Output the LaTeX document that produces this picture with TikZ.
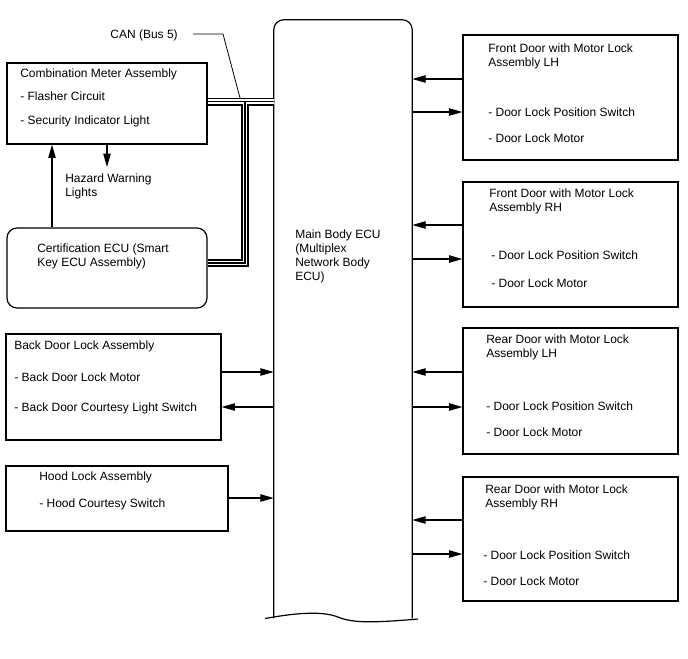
\documentclass[tikz,border=0pt]{standalone}
\usepackage{fontspec}
\setmainfont{Liberation Sans}
\usetikzlibrary{arrows.meta, fit}

\begin{document}
\begin{tikzpicture}[x=0.75pt, y=-0.75pt,
	box/.style={draw, line width=0.9pt, inner sep=0pt},
	lbl/.style={anchor=north west, inner sep=0pt, align=left, font=\fontsize{9pt}{10.5pt}\selectfont},
	sig/.style={line width=0.9pt, -{Triangle[length=10pt,width=5.5pt]}},
	bus/.style={line width=1.4pt, double, double distance=3.2pt}]
	\useasboundingbox (0,0) rectangle (688,658);
	% main body ECU
	\node[inner sep=0pt, fit={(274,20) (412,618)}] (ecu) {};
	\draw[line width=0.9pt, rounded corners=7.5pt] (ecu.south west) -- (ecu.north west) -- (ecu.north east) -- (ecu.south east);
	\draw[line width=0.9pt] (265,618.5) .. controls (290,614) and (320,610) .. (338,617) .. controls (352,623) and (372,623) .. (418,619);
	\node[lbl] (ecutxt) at (295,229.6) {Main Body ECU\\(Multiplex\\Network Body\\ECU)};
	
	% left side
	\node[box, fit={(7,63) (207,144)}] (meter) {};
	\node[lbl] (meter1) at (20,68.6) {Combination Meter Assembly};
	\node[lbl] (meter2) at (20,91.6) {- Flasher Circuit};
	\node[lbl] (meter3) at (20,115.6) {- Security Indicator Light};
	\node[lbl] (hazard) at (65,173.6) {Hazard Warning\\Lights};
	\coordinate (hazardtip) at (107,167);
	\node[box, rounded corners=7.5pt, fit={(7,228) (207,308)}] (cert) {};
	\node[lbl] (certtxt) at (37,243.6) {Certification ECU (Smart\\Key ECU Assembly)};
	\node[box, fit={(6,334) (221,440)}] (bdoor) {};
	\node[lbl] (bdoor1) at (14,340.6) {Back Door Lock Assembly};
	\node[lbl] (bdoor2) at (14,372.6) {- Back Door Lock Motor};
	\node[lbl] (bdoor3) at (14,402.6) {- Back Door Courtesy Light Switch};
	\node[box, fit={(6,466) (228,531)}] (hood) {};
	\node[lbl] (hood1) at (39,471.6) {Hood Lock Assembly};
	\node[lbl] (hood2) at (39,498.6) {- Hood Courtesy Switch};
	
	% right side
	\node[box, fit={(463,35) (678,160)}] (fdlh) {};
	\node[lbl] (fdlh1) at (488,43.6) {Front Door with Motor Lock\\Assembly LH};
	\node[lbl] (fdlh2) at (488,107.6) {- Door Lock Position Switch};
	\node[lbl] (fdlh3) at (488,133.6) {- Door Lock Motor};
	\node[box, fit={(463,182) (678,307)}] (fdrh) {};
	\node[lbl] (fdrh1) at (489,188.6) {Front Door with Motor Lock\\Assembly RH};
	\node[lbl] (fdrh2) at (491,250.6) {- Door Lock Position Switch};
	\node[lbl] (fdrh3) at (491,278.6) {- Door Lock Motor};
	\node[box, fit={(463,328) (678,454)}] (rdlh) {};
	\node[lbl] (rdlh1) at (486,334.6) {Rear Door with Motor Lock\\Assembly LH};
	\node[lbl] (rdlh2) at (486,401.6) {- Door Lock Position Switch};
	\node[lbl] (rdlh3) at (486,427.6) {- Door Lock Motor};
	\node[box, fit={(463,477) (678,601)}] (rdrh) {};
	\node[lbl] (rdrh1) at (485,484.6) {Rear Door with Motor Lock\\Assembly RH};
	\node[lbl] (rdrh2) at (483,550.6) {- Door Lock Position Switch};
	\node[lbl] (rdrh3) at (483,576.6) {- Door Lock Motor};
	
	% CAN bus
	\node[lbl, anchor=north east] (can) at (178,29.6) {CAN (Bus 5)};
	\coordinate (tee) at (245,101.5);
	\coordinate (cantap) at (240,98);
	\draw[bus] (meter.east |- tee) -- (ecu.west |- tee) (tee) |- (cert.east |- 0,263);
	\draw[line width=0.8pt] (meter.east |- tee) -- (ecu.west |- tee) (tee) |- (cert.east |- 0,263);
	\draw[line width=0.6pt] (can.east |- 0,34) ++(15,0) -- (223,34) -- (cantap);
	
	% signals
	\draw[sig] (cert.north -| 52,0) -- (meter.south -| 52,0);
	\draw[sig] (meter.south -| hazardtip) -- (hazardtip);
	\draw[sig] (bdoor.east |- 0,372) -- (ecu.west |- 0,372);
	\draw[sig] (ecu.west |- 0,407) -- (bdoor.east |- 0,407);
	\draw[sig] (hood.east |- 0,498) -- (ecu.west |- 0,498);
	\draw[sig] (fdlh.west |- 0,79) -- (ecu.east |- 0,79);
	\draw[sig] (ecu.east |- 0,112) -- (fdlh.west |- 0,112);
	\draw[sig] (fdrh.west |- 0,225) -- (ecu.east |- 0,225);
	\draw[sig] (ecu.east |- 0,259) -- (fdrh.west |- 0,259);
	\draw[sig] (rdlh.west |- 0,372) -- (ecu.east |- 0,372);
	\draw[sig] (ecu.east |- 0,407) -- (rdlh.west |- 0,407);
	\draw[sig] (rdrh.west |- 0,520) -- (ecu.east |- 0,520);
	\draw[sig] (ecu.east |- 0,554) -- (rdrh.west |- 0,554);
\end{tikzpicture}
\end{document}
